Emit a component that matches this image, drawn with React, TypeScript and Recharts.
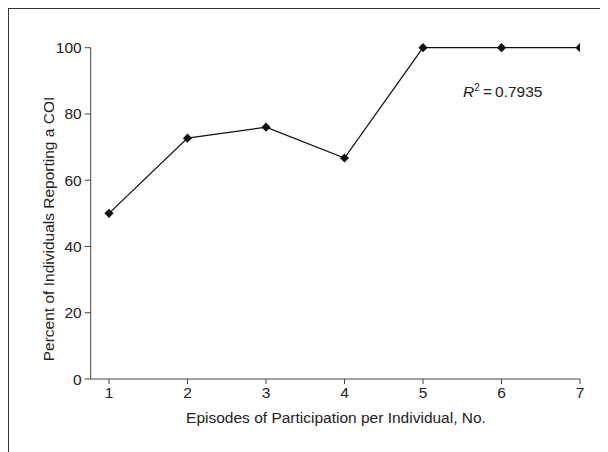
import { LineChart, Line, XAxis, YAxis, ReferenceDot } from 'recharts'

// Episodes of participation per individual vs percent reporting a COI
const episodes = [1, 2, 3, 4, 5, 6, 7]
const percentCOI = [50, 72.7, 76, 66.7, 100, 100, 100]
const xTicks = [1, 2, 3, 4, 5, 6, 7]
const yTicks = [0, 20, 40, 60, 80, 100]
const rSquared = '0.7935'
const rSquaredAt = { x: 5.51, y: 85 }

const data = episodes.map((e, i) => ({ episode: e, pct: percentCOI[i] }))

const FONT = '"Liberation Sans Narrow", "Arial Narrow", "Liberation Sans", Arial, sans-serif'
const INK = '#222'
const FS = 15.5

function Diamond(props: any) {
  const { cx, cy } = props
  if (cx == null || cy == null) return null
  const r = 4.6
  return (
    <polygon
      points={`${cx},${cy - r} ${cx + r},${cy} ${cx},${cy + r} ${cx - r},${cy}`}
      fill="#111"
    />
  )
}

export default function App() {
  return (
    <div style={{ position: 'relative', width: 600, height: 444, fontFamily: FONT }}>
      <div
        style={{
          position: 'absolute',
          left: 0,
          top: 0,
          width: 600,
          height: 444,
          borderTop: '1.5px solid #333',
          borderLeft: '1.5px solid #333',
          boxSizing: 'border-box',
          pointerEvents: 'none',
        }}
      />
      <LineChart
        width={600}
        height={444}
        data={data}
        margin={{ top: 39.7, right: 28, bottom: 43, left: 0 }}
        style={{ fontFamily: FONT }}
      >
        <XAxis
          dataKey="episode"
          type="number"
          domain={[0.767, 7]}
          ticks={xTicks}
          allowDataOverflow
          interval={0}
          height={30}
          tickSize={5}
          stroke="#444"
          tick={{ fill: INK, fontSize: FS }}
          tickMargin={3}
          label={{
            content: () => (
              <text x={328} y={415} textAnchor="middle" fill={INK} fontSize={FS}>
                Episodes of Participation per Individual, No.
              </text>
            ),
          }}
        />
        <YAxis
          type="number"
          domain={[0, 100]}
          ticks={yTicks}
          width={82.7}
          tickSize={6}
          stroke="#444"
          tick={{ fill: INK, fontSize: FS }}
          tickMargin={3}
          label={{
            content: () => (
              <text
                x={46}
                y={221}
                transform="rotate(-90 46 221)"
                textAnchor="middle"
                fill={INK}
                fontSize={FS}
              >
                Percent of Individuals Reporting a COI
              </text>
            ),
          }}
        />
        <ReferenceDot
          x={rSquaredAt.x}
          y={rSquaredAt.y}
          r={0}
          fill="none"
          stroke="none"
          label={{
            content: (p: any) => {
              const vb = p.viewBox || {}
              const x = vb.x + (vb.width || 0) / 2
              const y = vb.y + (vb.height || 0) / 2
              return (
                <text x={x} y={y} fill={INK} fontSize={FS}>
                  <tspan fontStyle="italic">R</tspan>
                  <tspan fontSize={10} dy={-6}>2</tspan>
                  <tspan dy={6}>{`\u2009=\u2009${rSquared}`}</tspan>
                </text>
              )
            },
          }}
        />
        <Line
          type="linear"
          dataKey="pct"
          stroke="#111"
          strokeWidth={1.3}
          dot={<Diamond />}
          activeDot={false}
          isAnimationActive={false}
        />
      </LineChart>
    </div>
  )
}
